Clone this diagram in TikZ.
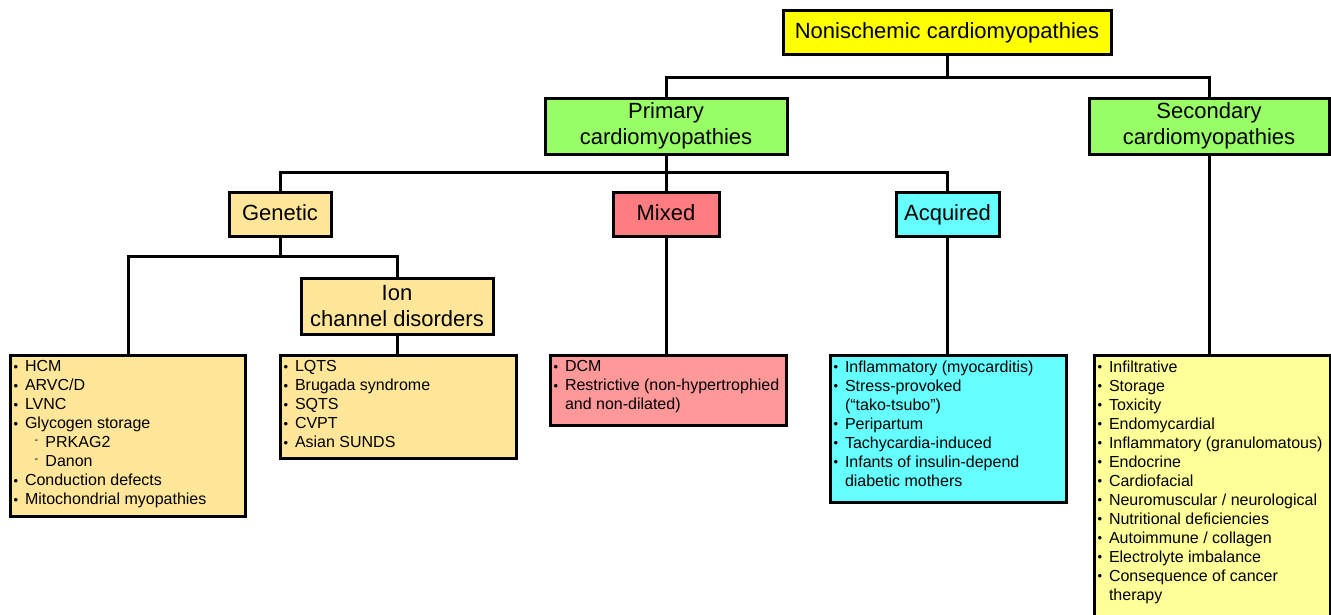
\documentclass[tikz,border=0pt]{standalone}
\usepackage{fontspec}
\setmainfont{Liberation Sans}
\definecolor{cyellow}{HTML}{FFFF00}
\definecolor{cgreen}{HTML}{99FF66}
\definecolor{corange}{HTML}{FFE699}
\definecolor{cred}{HTML}{FF7C80}
\definecolor{cpink}{HTML}{FF9999}
\definecolor{ccyan}{HTML}{66FFFF}
\definecolor{clyellow}{HTML}{FFFF99}
\newcommand\itm[1]{\makebox[11.5pt][l]{\raisebox{0.5pt}{\fontsize{13}{13}\selectfont •}}#1\par}
\newcommand\cnt[1]{\hspace*{11.5pt}#1\par}
\newcommand\sub[1]{\hspace*{21pt}\makebox[11pt][l]{\raisebox{4pt}{\fontsize{11}{11}\selectfont -}}#1\par}
\newcommand\lbox[3]{\parbox[t][#2pt][t]{#1pt}{\fontsize{16}{19}\selectfont #3}}
\begin{document}
\begin{tikzpicture}[x=1pt,y=-1pt,
  hdr/.style={draw, line width=3pt, font=\fontsize{22}{26}\selectfont, align=center, inner sep=0pt},
  one/.style={text height=15pt, text depth=2pt},
  lst/.style={draw, line width=3pt, anchor=north west, inner xsep=3pt, inner ysep=5pt},
  con/.style={draw, line width=3pt}]
\useasboundingbox (0,0) rectangle (1331,614);
% headers
\node[hdr, one, fill=cyellow, minimum width=328pt, minimum height=44pt] (root) at (947,32) {Nonischemic cardiomyopathies};
\node[hdr, fill=cgreen, minimum width=242pt, minimum height=56pt] (prim) at (666,126) {Primary\\cardiomyopathies};
\node[hdr, fill=cgreen, minimum width=240pt, minimum height=56pt] (sec) at (1209,126) {Secondary\\cardiomyopathies};
\node[hdr, one, fill=corange, minimum width=102pt, minimum height=44pt] (gen) at (280,214) {Genetic};
\node[hdr, one, fill=cred, minimum width=106pt, minimum height=44pt] (mix) at (666,214) {Mixed};
\node[hdr, one, fill=ccyan, minimum width=103pt, minimum height=44pt] (acq) at (947.5,214) {Acquired};
\node[hdr, fill=corange, minimum width=192pt, minimum height=56pt] (ion) at (397,306) {Ion\\channel disorders};
% lists
\node[lst, fill=corange] (l1) at (9,354) {\lbox{229}{151}{%
\itm{HCM}\itm{ARVC/D}\itm{LVNC}\itm{Glycogen storage}\sub{PRKAG2}\sub{Danon}\itm{Conduction defects}\itm{Mitochondrial myopathies}}};
\node[lst, fill=corange] (l2) at (279,354) {\lbox{230}{93}{%
\itm{LQTS}\itm{Brugada syndrome}\itm{SQTS}\itm{CVPT}\itm{Asian SUNDS}}};
\node[lst, fill=cpink] (l3) at (549,354) {\lbox{230}{60}{%
\itm{DCM}\itm{Restrictive (non-hypertrophied}\cnt{and non-dilated)}}};
\node[lst, fill=ccyan] (l4) at (829,354) {\lbox{230}{137}{%
\itm{Inflammatory (myocarditis)}\itm{Stress-provoked}\cnt{(``tako-tsubo'')}\itm{Peripartum}\itm{Tachycardia-induced}\itm{Infants of insulin-depend}\cnt{diabetic mothers}}};
\node[lst, fill=clyellow] (l5) at (1093,354) {\lbox{230}{262}{%
\itm{Infiltrative}\itm{Storage}\itm{Toxicity}\itm{Endomycardial}\itm{Inflammatory (granulomatous)}\itm{Endocrine}\itm{Cardiofacial}\itm{Neuromuscular / neurological}\itm{Nutritional deficiencies}\itm{Autoimmune / collagen}\itm{Electrolyte imbalance}\itm{Consequence of cancer}\cnt{therapy}}};
% connectors
\coordinate (j1) at (947,77);
\coordinate (j2) at (666,172);
\coordinate (j3) at (280,256);
\draw[con] (root.south) -- (j1) -| (prim.north);
\draw[con] (j1) -| (sec.north);
\draw[con] (prim.south) -- (j2) -| (gen.north);
\draw[con] (j2) -| (acq.north);
\draw[con] (j2) -- (mix.north);
\draw[con] (gen.south) -- (j3) -| (l1.north);
\draw[con] (j3) -| (ion.north);
\draw[con] (ion.south) -- (ion.south |- l2.north);
\draw[con] (mix.south) -- (mix.south |- l3.north);
\draw[con] (acq.south) -- (acq.south |- l4.north);
\draw[con] (sec.south) -- (sec.south |- l5.north);
\end{tikzpicture}
\end{document}
